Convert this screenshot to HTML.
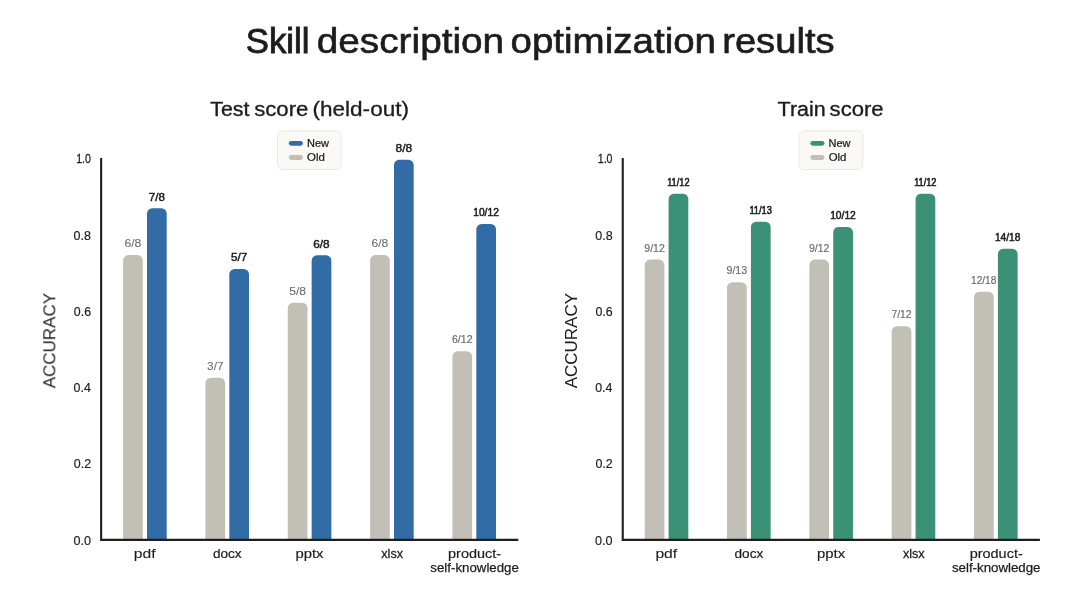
<!DOCTYPE html>
<html><head><meta charset="utf-8"><title>Skill description optimization results</title>
<style>
html,body{margin:0;padding:0;background:#fff;}
body{width:1080px;height:608px;overflow:hidden;font-family:"Liberation Sans",sans-serif;}
svg{display:block;will-change:transform;}
svg text{font-family:"Liberation Sans",sans-serif;}
</style></head><body>
<svg width="1080" height="608" viewBox="0 0 1080 608">
<rect width="1080" height="608" fill="#ffffff"/>
<g opacity="0.999">
<text x="245.73" y="53.30" font-size="35.9" textLength="63.78" lengthAdjust="spacingAndGlyphs" fill="#1c1c1c" stroke="#1c1c1c" stroke-width="0.87">Skill</text>
<text x="316.77" y="53.30" font-size="35.9" textLength="187.41" lengthAdjust="spacingAndGlyphs" fill="#1c1c1c" stroke="#1c1c1c" stroke-width="0.63">description</text>
<text x="510.48" y="53.30" font-size="35.9" textLength="205.58" lengthAdjust="spacingAndGlyphs" fill="#1c1c1c" stroke="#1c1c1c" stroke-width="0.64">optimization</text>
<text x="722.18" y="53.30" font-size="35.9" textLength="112.41" lengthAdjust="spacingAndGlyphs" fill="#1c1c1c" stroke="#1c1c1c" stroke-width="0.67">results</text>
<text x="210.33" y="115.50" font-size="20" textLength="39.12" lengthAdjust="spacingAndGlyphs" fill="#1c1c1c" stroke="#1c1c1c" stroke-width="0.37">Test</text>
<text x="254.20" y="115.50" font-size="20" textLength="54.18" lengthAdjust="spacingAndGlyphs" fill="#1c1c1c" stroke="#1c1c1c" stroke-width="0.32">score</text>
<text x="312.50" y="115.50" font-size="20" textLength="96.49" lengthAdjust="spacingAndGlyphs" fill="#1c1c1c" stroke="#1c1c1c" stroke-width="0.30">(held-out)</text>
<text x="777.63" y="115.50" font-size="20" textLength="47.94" lengthAdjust="spacingAndGlyphs" fill="#1c1c1c" stroke="#1c1c1c" stroke-width="0.37">Train</text>
<text x="829.60" y="115.50" font-size="20" textLength="54.08" lengthAdjust="spacingAndGlyphs" fill="#1c1c1c" stroke="#1c1c1c" stroke-width="0.32">score</text>
<rect x="277.50" y="130.9" width="63.7" height="38.6" rx="5.2" fill="#faf9f5" stroke="#ebe9df" stroke-width="1"/>
<rect x="288.80" y="140.9" width="14.1" height="4.9" rx="2.45" fill="#316ca6"/>
<rect x="288.80" y="155.0" width="14.1" height="4.9" rx="2.45" fill="#c2bfb6"/>
<text x="307.00" y="146.90" font-size="10.0" textLength="21.97" lengthAdjust="spacingAndGlyphs" fill="#1c1c1c" stroke="#1c1c1c" stroke-width="0.22">New</text>
<text x="307.06" y="160.80" font-size="10.0" textLength="17.77" lengthAdjust="spacingAndGlyphs" fill="#1c1c1c" stroke="#1c1c1c" stroke-width="0.20">Old</text>
<text x="73.41" y="544.60" font-size="13" textLength="17.58" lengthAdjust="spacingAndGlyphs" fill="#1c1c1c" stroke="#1c1c1c" stroke-width="0.17">0.0</text>
<text x="73.81" y="468.34" font-size="13" textLength="17.31" lengthAdjust="spacingAndGlyphs" fill="#1c1c1c" stroke="#1c1c1c" stroke-width="0.18">0.2</text>
<text x="73.62" y="392.08" font-size="13" textLength="17.25" lengthAdjust="spacingAndGlyphs" fill="#1c1c1c" stroke="#1c1c1c" stroke-width="0.19">0.4</text>
<text x="73.82" y="315.82" font-size="13" textLength="17.22" lengthAdjust="spacingAndGlyphs" fill="#1c1c1c" stroke="#1c1c1c" stroke-width="0.19">0.6</text>
<text x="73.61" y="239.56" font-size="13" textLength="17.43" lengthAdjust="spacingAndGlyphs" fill="#1c1c1c" stroke="#1c1c1c" stroke-width="0.18">0.8</text>
<text x="76.20" y="163.30" font-size="13" textLength="14.71" lengthAdjust="spacingAndGlyphs" fill="#1c1c1c" stroke="#1c1c1c" stroke-width="0.29">1.0</text>
<path d="M123.10,539.85 V260.40 A5.3,5.3 0 0 1 128.40,255.10 H137.50 A5.3,5.3 0 0 1 142.80,260.40 V539.85 Z" fill="#c2bfb6"/>
<text x="124.49" y="247.10" font-size="10.7" textLength="16.83" lengthAdjust="spacingAndGlyphs" fill="#6a6a6a" stroke="#6a6a6a" stroke-width="0.07">6/8</text>
<path d="M147.00,539.85 V213.50 A5.3,5.3 0 0 1 152.30,208.20 H161.40 A5.3,5.3 0 0 1 166.70,213.50 V539.85 Z" fill="#316ca6"/>
<text x="148.76" y="200.50" font-size="10.7" textLength="16.09" lengthAdjust="spacingAndGlyphs" fill="#1c1c1c" stroke="#1c1c1c" stroke-width="0.45">7/8</text>
<text x="133.80" y="557.80" font-size="13.3" textLength="21.77" lengthAdjust="spacingAndGlyphs" fill="#1c1c1c" stroke="#1c1c1c" stroke-width="0.11">pdf</text>
<path d="M205.43,539.85 V383.00 A5.3,5.3 0 0 1 210.73,377.70 H219.83 A5.3,5.3 0 0 1 225.13,383.00 V539.85 Z" fill="#c2bfb6"/>
<text x="207.13" y="369.70" font-size="10.7" textLength="16.44" lengthAdjust="spacingAndGlyphs" fill="#6a6a6a" stroke="#6a6a6a" stroke-width="0.08">3/7</text>
<path d="M229.33,539.85 V274.20 A5.3,5.3 0 0 1 234.63,268.90 H243.73 A5.3,5.3 0 0 1 249.03,274.20 V539.85 Z" fill="#316ca6"/>
<text x="231.11" y="261.20" font-size="10.7" textLength="16.25" lengthAdjust="spacingAndGlyphs" fill="#1c1c1c" stroke="#1c1c1c" stroke-width="0.44">5/7</text>
<text x="212.96" y="557.80" font-size="13.3" textLength="28.71" lengthAdjust="spacingAndGlyphs" fill="#1c1c1c" stroke="#1c1c1c" stroke-width="0.23">docx</text>
<path d="M287.76,539.85 V308.00 A5.3,5.3 0 0 1 293.06,302.70 H302.16 A5.3,5.3 0 0 1 307.46,308.00 V539.85 Z" fill="#c2bfb6"/>
<text x="289.28" y="294.70" font-size="10.7" textLength="16.70" lengthAdjust="spacingAndGlyphs" fill="#6a6a6a" stroke="#6a6a6a" stroke-width="0.07">5/8</text>
<path d="M311.66,539.85 V260.60 A5.3,5.3 0 0 1 316.96,255.30 H326.06 A5.3,5.3 0 0 1 331.36,260.60 V539.85 Z" fill="#316ca6"/>
<text x="313.27" y="247.60" font-size="10.7" textLength="16.40" lengthAdjust="spacingAndGlyphs" fill="#1c1c1c" stroke="#1c1c1c" stroke-width="0.43">6/8</text>
<text x="295.41" y="557.80" font-size="13.3" textLength="28.10" lengthAdjust="spacingAndGlyphs" fill="#1c1c1c" stroke="#1c1c1c" stroke-width="0.16">pptx</text>
<path d="M370.09,539.85 V260.40 A5.3,5.3 0 0 1 375.39,255.10 H384.49 A5.3,5.3 0 0 1 389.79,260.40 V539.85 Z" fill="#c2bfb6"/>
<text x="371.48" y="247.10" font-size="10.7" textLength="16.83" lengthAdjust="spacingAndGlyphs" fill="#6a6a6a" stroke="#6a6a6a" stroke-width="0.07">6/8</text>
<path d="M393.99,539.85 V165.00 A5.3,5.3 0 0 1 399.29,159.70 H408.39 A5.3,5.3 0 0 1 413.69,165.00 V539.85 Z" fill="#316ca6"/>
<text x="395.53" y="152.00" font-size="10.7" textLength="16.63" lengthAdjust="spacingAndGlyphs" fill="#1c1c1c" stroke="#1c1c1c" stroke-width="0.42">8/8</text>
<text x="381.30" y="557.80" font-size="13.3" textLength="21.77" lengthAdjust="spacingAndGlyphs" fill="#1c1c1c" stroke="#1c1c1c" stroke-width="0.29">xlsx</text>
<path d="M452.42,539.85 V356.60 A5.3,5.3 0 0 1 457.72,351.30 H466.82 A5.3,5.3 0 0 1 472.12,356.60 V539.85 Z" fill="#c2bfb6"/>
<text x="451.99" y="343.30" font-size="10.7" textLength="20.56" lengthAdjust="spacingAndGlyphs" fill="#6a6a6a" stroke="#6a6a6a" stroke-width="0.16">6/12</text>
<path d="M476.32,539.85 V229.30 A5.3,5.3 0 0 1 481.62,224.00 H490.72 A5.3,5.3 0 0 1 496.02,229.30 V539.85 Z" fill="#316ca6"/>
<text x="473.24" y="216.30" font-size="10.7" textLength="25.59" lengthAdjust="spacingAndGlyphs" fill="#1c1c1c" stroke="#1c1c1c" stroke-width="0.53">10/12</text>
<text x="448.07" y="557.80" font-size="13.3" textLength="53.07" lengthAdjust="spacingAndGlyphs" fill="#1c1c1c" stroke="#1c1c1c" stroke-width="0.18">product-</text>
<text x="430.34" y="572.40" font-size="13.3" textLength="88.55" lengthAdjust="spacingAndGlyphs" fill="#1c1c1c" stroke="#1c1c1c" stroke-width="0.25">self-knowledge</text>
<path d="M101.15,158.1 V539.85 H518.30" fill="none" stroke="#1e1e1e" stroke-width="2.1" stroke-linejoin="miter"/>
<text transform="translate(55.30,388.23) rotate(-90)" font-size="17" textLength="95.20" lengthAdjust="spacingAndGlyphs" fill="#1c1c1c">ACCURACY</text>
<rect x="799.10" y="130.9" width="63.7" height="38.6" rx="5.2" fill="#faf9f5" stroke="#ebe9df" stroke-width="1"/>
<rect x="810.40" y="140.9" width="14.1" height="4.9" rx="2.45" fill="#3a9176"/>
<rect x="810.40" y="155.0" width="14.1" height="4.9" rx="2.45" fill="#c2bfb6"/>
<text x="828.60" y="146.90" font-size="10.0" textLength="21.97" lengthAdjust="spacingAndGlyphs" fill="#1c1c1c" stroke="#1c1c1c" stroke-width="0.22">New</text>
<text x="828.66" y="160.80" font-size="10.0" textLength="17.77" lengthAdjust="spacingAndGlyphs" fill="#1c1c1c" stroke="#1c1c1c" stroke-width="0.20">Old</text>
<text x="595.01" y="544.60" font-size="13" textLength="17.58" lengthAdjust="spacingAndGlyphs" fill="#1c1c1c" stroke="#1c1c1c" stroke-width="0.17">0.0</text>
<text x="595.41" y="468.34" font-size="13" textLength="17.31" lengthAdjust="spacingAndGlyphs" fill="#1c1c1c" stroke="#1c1c1c" stroke-width="0.18">0.2</text>
<text x="595.22" y="392.08" font-size="13" textLength="17.25" lengthAdjust="spacingAndGlyphs" fill="#1c1c1c" stroke="#1c1c1c" stroke-width="0.19">0.4</text>
<text x="595.42" y="315.82" font-size="13" textLength="17.22" lengthAdjust="spacingAndGlyphs" fill="#1c1c1c" stroke="#1c1c1c" stroke-width="0.19">0.6</text>
<text x="595.21" y="239.56" font-size="13" textLength="17.43" lengthAdjust="spacingAndGlyphs" fill="#1c1c1c" stroke="#1c1c1c" stroke-width="0.18">0.8</text>
<text x="597.80" y="163.30" font-size="13" textLength="14.71" lengthAdjust="spacingAndGlyphs" fill="#1c1c1c" stroke="#1c1c1c" stroke-width="0.29">1.0</text>
<path d="M644.70,539.85 V264.90 A5.3,5.3 0 0 1 650.00,259.60 H659.10 A5.3,5.3 0 0 1 664.40,264.90 V539.85 Z" fill="#c2bfb6"/>
<text x="644.32" y="251.60" font-size="10.7" textLength="20.52" lengthAdjust="spacingAndGlyphs" fill="#6a6a6a" stroke="#6a6a6a" stroke-width="0.16">9/12</text>
<path d="M668.60,539.85 V199.10 A5.3,5.3 0 0 1 673.90,193.80 H683.00 A5.3,5.3 0 0 1 688.30,199.10 V539.85 Z" fill="#3a9176"/>
<text x="667.15" y="186.10" font-size="10.7" textLength="22.36" lengthAdjust="spacingAndGlyphs" fill="#1c1c1c" stroke="#1c1c1c" stroke-width="0.59">11/12</text>
<text x="655.40" y="557.80" font-size="13.3" textLength="21.77" lengthAdjust="spacingAndGlyphs" fill="#1c1c1c" stroke="#1c1c1c" stroke-width="0.11">pdf</text>
<path d="M727.03,539.85 V287.50 A5.3,5.3 0 0 1 732.33,282.20 H741.43 A5.3,5.3 0 0 1 746.73,287.50 V539.85 Z" fill="#c2bfb6"/>
<text x="726.54" y="274.20" font-size="10.7" textLength="20.65" lengthAdjust="spacingAndGlyphs" fill="#6a6a6a" stroke="#6a6a6a" stroke-width="0.16">9/13</text>
<path d="M750.93,539.85 V227.10 A5.3,5.3 0 0 1 756.23,221.80 H765.33 A5.3,5.3 0 0 1 770.63,227.10 V539.85 Z" fill="#3a9176"/>
<text x="749.38" y="214.10" font-size="10.7" textLength="22.51" lengthAdjust="spacingAndGlyphs" fill="#1c1c1c" stroke="#1c1c1c" stroke-width="0.59">11/13</text>
<text x="734.56" y="557.80" font-size="13.3" textLength="28.71" lengthAdjust="spacingAndGlyphs" fill="#1c1c1c" stroke="#1c1c1c" stroke-width="0.23">docx</text>
<path d="M809.36,539.85 V264.90 A5.3,5.3 0 0 1 814.66,259.60 H823.76 A5.3,5.3 0 0 1 829.06,264.90 V539.85 Z" fill="#c2bfb6"/>
<text x="808.98" y="251.60" font-size="10.7" textLength="20.52" lengthAdjust="spacingAndGlyphs" fill="#6a6a6a" stroke="#6a6a6a" stroke-width="0.16">9/12</text>
<path d="M833.26,539.85 V232.20 A5.3,5.3 0 0 1 838.56,226.90 H847.66 A5.3,5.3 0 0 1 852.96,232.20 V539.85 Z" fill="#3a9176"/>
<text x="830.18" y="219.20" font-size="10.7" textLength="25.59" lengthAdjust="spacingAndGlyphs" fill="#1c1c1c" stroke="#1c1c1c" stroke-width="0.53">10/12</text>
<text x="817.01" y="557.80" font-size="13.3" textLength="28.10" lengthAdjust="spacingAndGlyphs" fill="#1c1c1c" stroke="#1c1c1c" stroke-width="0.16">pptx</text>
<path d="M891.69,539.85 V331.60 A5.3,5.3 0 0 1 896.99,326.30 H906.09 A5.3,5.3 0 0 1 911.39,331.60 V539.85 Z" fill="#c2bfb6"/>
<text x="891.41" y="318.30" font-size="10.7" textLength="20.25" lengthAdjust="spacingAndGlyphs" fill="#6a6a6a" stroke="#6a6a6a" stroke-width="0.17">7/12</text>
<path d="M915.59,539.85 V199.10 A5.3,5.3 0 0 1 920.89,193.80 H929.99 A5.3,5.3 0 0 1 935.29,199.10 V539.85 Z" fill="#3a9176"/>
<text x="914.14" y="186.10" font-size="10.7" textLength="22.36" lengthAdjust="spacingAndGlyphs" fill="#1c1c1c" stroke="#1c1c1c" stroke-width="0.59">11/12</text>
<text x="902.90" y="557.80" font-size="13.3" textLength="21.77" lengthAdjust="spacingAndGlyphs" fill="#1c1c1c" stroke="#1c1c1c" stroke-width="0.29">xlsx</text>
<path d="M974.02,539.85 V297.00 A5.3,5.3 0 0 1 979.32,291.70 H988.42 A5.3,5.3 0 0 1 993.72,297.00 V539.85 Z" fill="#c2bfb6"/>
<text x="971.05" y="283.70" font-size="10.7" textLength="25.31" lengthAdjust="spacingAndGlyphs" fill="#6a6a6a" stroke="#6a6a6a" stroke-width="0.18">12/18</text>
<path d="M997.92,539.85 V254.00 A5.3,5.3 0 0 1 1003.22,248.70 H1012.32 A5.3,5.3 0 0 1 1017.62,254.00 V539.85 Z" fill="#3a9176"/>
<text x="994.90" y="241.00" font-size="10.7" textLength="25.41" lengthAdjust="spacingAndGlyphs" fill="#1c1c1c" stroke="#1c1c1c" stroke-width="0.53">14/18</text>
<text x="969.67" y="557.80" font-size="13.3" textLength="53.07" lengthAdjust="spacingAndGlyphs" fill="#1c1c1c" stroke="#1c1c1c" stroke-width="0.18">product-</text>
<text x="951.94" y="572.40" font-size="13.3" textLength="88.55" lengthAdjust="spacingAndGlyphs" fill="#1c1c1c" stroke="#1c1c1c" stroke-width="0.25">self-knowledge</text>
<path d="M622.75,158.1 V539.85 H1039.90" fill="none" stroke="#1e1e1e" stroke-width="2.1" stroke-linejoin="miter"/>
<text transform="translate(576.90,388.23) rotate(-90)" font-size="17" textLength="95.20" lengthAdjust="spacingAndGlyphs" fill="#1c1c1c">ACCURACY</text>
</g>
</svg>
</body></html>
